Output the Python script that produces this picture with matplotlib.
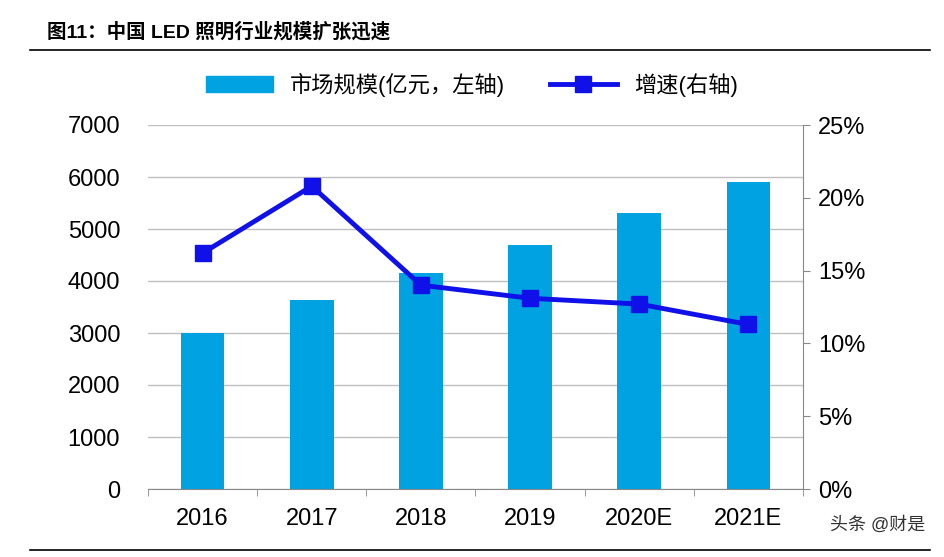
import matplotlib
matplotlib.use("Agg")
import matplotlib.pyplot as plt
from matplotlib.lines import Line2D
from matplotlib.ticker import FuncFormatter

plt.rcParams['font.family'] = ['Liberation Sans', 'Noto Sans CJK SC', 'DejaVu Sans']

years = ["2016", "2017", "2018", "2019", "2020E", "2021E"]
market = [3000, 3640, 4150, 4700, 5300, 5900]
growth = [16.2, 20.8, 14.0, 13.1, 12.7, 11.3]

fig = plt.figure(figsize=(9.44, 5.57), dpi=100)
ax = fig.add_axes([148/944, 1-489/557, (803-148)/944, (489-125)/557])
x = range(len(years))
ax.bar(x, market, width=0.4, color='#00A2E2', zorder=2)
ax.set_ylim(0, 7000)
ax.set_yticks(range(0, 7001, 1000))
ax.set_xlim(-0.5, 5.5)
ax.set_xticks(list(x))
ax.set_xticklabels(years)
ax.set_xticks([i - 0.5 for i in range(7)], minor=True)
ax.grid(axis='y', color='#BFBFBF', lw=1, zorder=0)
for s in ['top', 'right', 'left']:
    ax.spines[s].set_visible(False)
ax.spines['bottom'].set_color('#888888')
ax.tick_params(axis='y', length=0, labelsize=17, pad=20)
ax.tick_params(axis='x', which='major', length=0, labelsize=17, pad=14)
ax.tick_params(axis='x', which='minor', length=5, color='#888888')

ax2 = ax.twinx()
ax2.plot(x, growth, color='#1010E8', lw=3.5, marker='s', ms=12, zorder=3)
ax2.set_ylim(0, 25)
ax2.set_yticks(range(0, 26, 5))
ax2.yaxis.set_major_formatter(FuncFormatter(lambda v, p: f"{int(v)}%"))
for s in ['top', 'left', 'bottom']:
    ax2.spines[s].set_visible(False)
ax2.spines['right'].set_color('#888888')
ax2.tick_params(axis='y', length=5, color='#888888', labelsize=17, pad=6)

handles = [plt.Rectangle((0, 0), 1, 1, color='#00A2E2'),
           Line2D([0], [0], color='#1010E8', lw=3.5, marker='s', ms=12)]
fig.legend(handles, ['市场规模(亿元，左轴)', '增速(右轴)'], loc='center',
           bbox_to_anchor=(0.5, 1-85/557), ncol=2, frameon=False, fontsize=16,
           handlelength=3, columnspacing=2)

fig.text(47/944, 1-32/557, '图11：中国 LED 照明行业规模扩张迅速', fontsize=14,
         fontweight='bold', va='center', ha='left')
fig.add_artist(Line2D([30/944, 930/944], [1-50/557]*2, color='black', lw=1.2))
fig.add_artist(Line2D([30/944, 930/944], [1-550/557]*2, color='black', lw=1.2))
fig.text(925/944, 1-525/557, '头条 @财是', fontsize=13, ha='right', va='center', color='#333333')

fig.savefig('out.png', dpi=100)
